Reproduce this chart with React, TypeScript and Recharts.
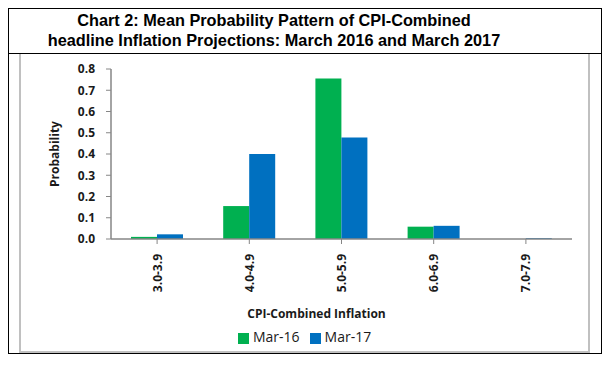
import React from "react";
import { BarChart, Bar, XAxis, YAxis, Legend } from "recharts";

const categories = ["3.0-3.9", "4.0-4.9", "5.0-5.9", "6.0-6.9", "7.0-7.9"];
const mar16 = [0.01, 0.155, 0.755, 0.058, 0.0];
const mar17 = [0.022, 0.4, 0.478, 0.062, 0.004];
const yTicks = [0, 0.1, 0.2, 0.3, 0.4, 0.5, 0.6, 0.7, 0.8];

const data = categories.map((c, i) => ({
  cat: c,
  "Mar-16": mar16[i],
  "Mar-17": mar17[i],
}));

const tickFont = "'Open Sans', sans-serif";
const axisGray = "#868686";

const XTick = (props: any) => {
  const { x, y, payload } = props;
  return (
    <g transform={`translate(${x},${y})`}>
      <text
        transform="rotate(-90)"
        x={-8}
        y={0}
        textAnchor="end"
        dominantBaseline="central"
        fontFamily={tickFont}
        fontSize={12}
        fontWeight="bold"
        fill="#1a1a1a"
      >
        {payload.value}
      </text>
    </g>
  );
};

const App: React.FC = () => {
  return (
    <div style={{ position: "relative", width: 604, height: 357 }}>
      <div
        style={{
          position: "absolute",
          left: 0,
          top: 0,
          width: 594,
          height: 346,
          border: "1px solid #000",
          boxSizing: "border-box",
        }}
      />
      <div
        style={{
          position: "absolute",
          left: 0,
          top: 45,
          width: 594,
          height: 1,
          background: "#000",
        }}
      />
      <div
        style={{
          position: "absolute",
          left: 0,
          top: 2,
          width: 532,
          textAlign: "center",
          fontFamily: "'Liberation Sans', Arial, sans-serif",
          fontWeight: "bold",
          fontSize: 16.3,
          lineHeight: "20px",
          color: "#000",
        }}
      >
        Chart 2: Mean Probability Pattern of CPI-Combined
        <br />
        headline Inflation Projections: March 2016 and March 2017
      </div>
      <div
        style={{
          position: "absolute",
          left: 11,
          top: 46,
          width: 571,
          height: 299,
          borderLeft: "2px solid #c0c0c0",
          borderRight: "2px solid #c0c0c0",
          borderBottom: "2px solid #c0c0c0",
          boxSizing: "border-box",
        }}
      />
      <div style={{ position: "absolute", left: 11, top: 46 }}>
        <BarChart
          width={571}
          height={298}
          data={data}
          margin={{ top: 15, right: 18, left: 0, bottom: 6 }}
          barCategoryGap={20}
          barGap={0}
        >
          <XAxis
            dataKey="cat"
            interval={0}
            tick={<XTick />}
            tickSize={5}
            axisLine={{ stroke: axisGray, strokeWidth: 1.5 }}
            tickLine={{ stroke: axisGray }}
            height={88}
            label={{
              value: "CPI-Combined Inflation",
              position: "insideBottom",
              offset: 9,
              dx: -25,
              fontFamily: tickFont,
              fontSize: 12,
              fontWeight: "bold",
              fill: "#1a1a1a",
            }}
          />
          <YAxis
            width={92}
            domain={[0, 0.8]}
            ticks={yTicks}
            tickFormatter={(v: number) => v.toFixed(1)}
            tick={{ fontFamily: tickFont, fontSize: 12, fontWeight: "bold", fill: "#1a1a1a" }}
            tickSize={5}
            tickMargin={11}
            axisLine={{ stroke: axisGray, strokeWidth: 1.5 }}
            tickLine={{ stroke: axisGray }}
            label={{
              value: "Probability",
              angle: -90,
              position: "center",
              dx: -10,
              fontFamily: tickFont,
              fontSize: 12,
              fontWeight: "bold",
              fill: "#1a1a1a",
            }}
          />
          <Legend
            verticalAlign="bottom"
            align="left"
            iconType="square"
            iconSize={11}
            wrapperStyle={{ left: 219 }}
            formatter={(v: string) => (
              <span style={{ color: "#1a1a1a", fontFamily: tickFont, fontSize: 14 }}>{v}</span>
            )}
          />
          <Bar dataKey="Mar-16" fill="#00B050" isAnimationActive={false} />
          <Bar dataKey="Mar-17" fill="#0070C0" isAnimationActive={false} />
        </BarChart>
      </div>
    </div>
  );
};

export default App;
